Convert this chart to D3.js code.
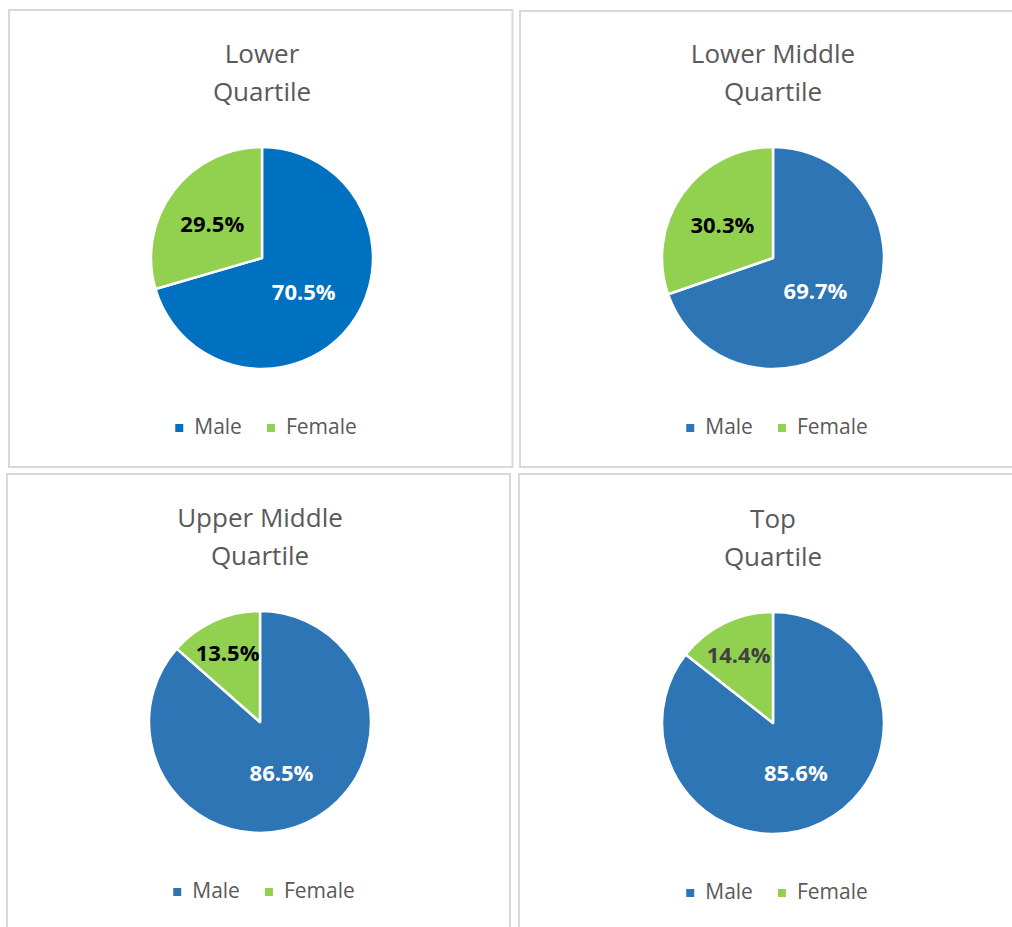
<!DOCTYPE html>
<html>
<head>
<meta charset="utf-8">
<script src="https://cdn.jsdelivr.net/npm/d3@7"></script>
<style>
  html, body { margin: 0; padding: 0; background: #fff; }
  svg { display: block; }
</style>
</head>
<body>
<div id="chart"></div>
<script>
// data
const titles = [["Lower", "Quartile"], ["Lower Middle", "Quartile"], ["Upper Middle", "Quartile"], ["Top", "Quartile"]];
const categories = ["Male", "Female"];
const maleShare = [70.5, 69.7, 86.5, 85.6];
const femaleShare = [29.5, 30.3, 13.5, 14.4];

// layout / style
const width = 1012, height = 927;
const panels = [
  { x: 9, y: 10, w: 503.5, h: 457, cx: 262, cy: 258 },
  { x: 520, y: 11, w: 520, h: 456, cx: 773, cy: 258 },
  { x: 7, y: 474, w: 503, h: 470, cx: 260, cy: 722 },
  { x: 519, y: 474, w: 520, h: 470, cx: 773, cy: 723 }
];
const maleColors = ["#0070C0", "#2E75B6", "#2E75B6", "#2E75B6"];
const femaleColor = "#92D050";
const femaleLabelColors = ["#000000", "#000000", "#000000", "#404040"];
const radius = 111;
const font = "'Open Sans', 'Liberation Sans', sans-serif";

const svg = d3.select("#chart").append("svg")
  .attr("width", width)
  .attr("height", height);

const pie = d3.pie().sort(null).value(d => d.value);
const arc = d3.arc().innerRadius(0).outerRadius(radius);

panels.forEach((p, i) => {
  const g = svg.append("g");

  // panel frame
  g.append("rect")
    .attr("x", p.x).attr("y", p.y)
    .attr("width", p.w).attr("height", p.h)
    .attr("fill", "#fff")
    .attr("stroke", "#d9d9d9")
    .attr("stroke-width", 2);

  // title, two lines
  const title = g.append("text")
    .attr("x", p.cx)
    .attr("text-anchor", "middle")
    .attr("font-family", font)
    .attr("font-size", 26)
    .attr("fill", "#595959");
  titles[i].forEach((line, k) => {
    title.append("tspan")
      .attr("x", p.cx)
      .attr("y", p.cy - 195 + k * 38)
      .text(line);
  });

  const values = [
    { cat: categories[0], value: maleShare[i] },
    { cat: categories[1], value: femaleShare[i] }
  ];
  const colors = [maleColors[i], femaleColor];
  const arcs = pie(values);

  const pieG = g.append("g").attr("transform", `translate(${p.cx},${p.cy})`);
  pieG.selectAll("path")
    .data(arcs)
    .join("path")
    .attr("d", arc)
    .attr("fill", (d, j) => colors[j])
    .attr("stroke", "#fff")
    .attr("stroke-width", 2.5)
    .attr("stroke-linejoin", "round");

  // data labels, placed roughly like Excel's best fit
  pieG.selectAll("text")
    .data(arcs)
    .join("text")
    .attr("transform", d => {
      const share = d.data.value / 100;
      const f = share < 0.2 ? 0.71 : (share > 0.6 ? 0.47 : 0.56);
      const la = d3.arc().innerRadius(radius * f).outerRadius(radius * f);
      const [lx, ly] = la.centroid(d);
      return `translate(${lx},${ly})`;
    })
    .attr("text-anchor", "middle")
    .attr("dy", "0.5em")
    .attr("font-family", font)
    .attr("font-weight", "bold")
    .attr("font-size", 22)
    .attr("fill", (d, j) => j === 0 ? "#ffffff" : femaleLabelColors[i])
    .text(d => d.data.value.toFixed(1) + "%");

  // legend
  const leg = g.append("g");
  let xo = 0;
  categories.forEach((c, j) => {
    leg.append("rect")
      .attr("x", xo).attr("y", -10)
      .attr("width", 8).attr("height", 8)
      .attr("fill", colors[j]);
    const t = leg.append("text")
      .attr("x", xo + 19).attr("y", 0)
      .attr("font-family", font)
      .attr("font-size", 21)
      .attr("fill", "#595959")
      .text(c);
    xo += 19 + t.node().getComputedTextLength() + 25;
  });
  const legW = xo - 25;
  leg.attr("transform", `translate(${p.cx + 4 - legW / 2},${p.cy + 176})`);
});
</script>
</body>
</html>
